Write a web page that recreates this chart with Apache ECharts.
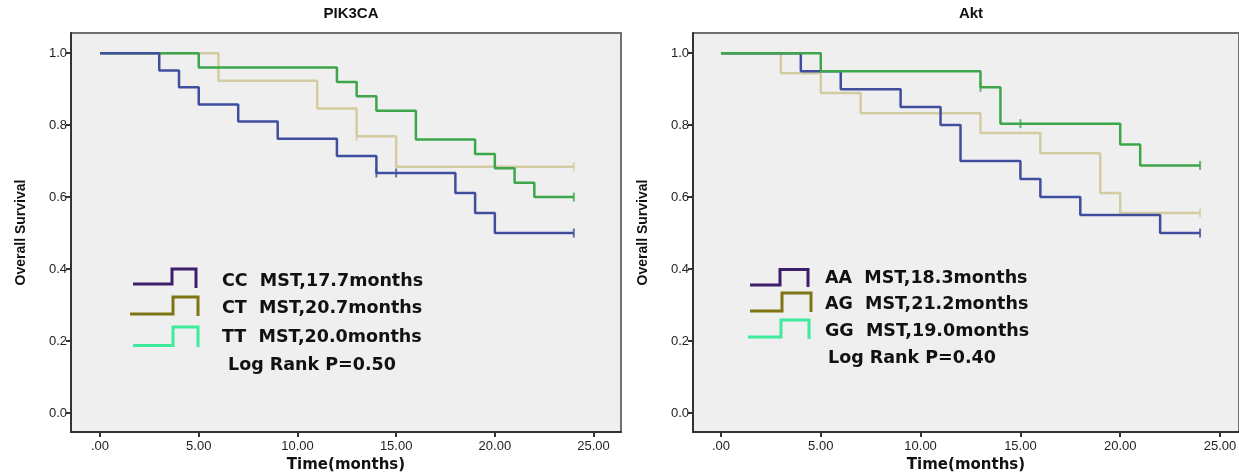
<!DOCTYPE html>
<html>
<head>
<meta charset="utf-8">
<script src="https://cdn.jsdelivr.net/npm/echarts@6.0.0/dist/echarts.min.js"></script>
<style>
  html, body { margin: 0; padding: 0; background: #fff; }
  #main { width: 1239px; height: 475px; }
</style>
</head>
<body>
<div id="main"></div>
<script>
var myChart = echarts.init(document.getElementById('main'));

// axis ticks
var xTicks = [0, 5, 10, 15, 20, 25];
var yTicks = [0, 0.2, 0.4, 0.6, 0.8, 1.0];

// PIK3CA panel (time in months, cumulative survival)
var ccTime = [0, 3, 4, 5, 7, 9, 12, 14, 18, 19, 20, 24];
var ccSurv = [1, 0.952, 0.905, 0.857, 0.810, 0.762, 0.714, 0.667, 0.611, 0.556, 0.500, 0.500];
var ccCensTime = [14, 15, 24];
var ccCensSurv = [0.667, 0.667, 0.500];

var ctTime = [0, 6, 11, 13, 15, 24];
var ctSurv = [1, 0.923, 0.846, 0.769, 0.684, 0.684];
var ctCensTime = [13, 24];
var ctCensSurv = [0.769, 0.684];

var ttTime = [0, 5, 12, 13, 14, 16, 19, 20, 21, 22, 24];
var ttSurv = [1, 0.96, 0.92, 0.88, 0.84, 0.76, 0.72, 0.68, 0.64, 0.60, 0.60];
var ttCensTime = [24];
var ttCensSurv = [0.60];

// Akt panel
var aaTime = [0, 4, 6, 9, 11, 12, 15, 16, 18, 22, 24];
var aaSurv = [1, 0.95, 0.90, 0.85, 0.80, 0.70, 0.65, 0.60, 0.55, 0.50, 0.50];
var aaCensTime = [24];
var aaCensSurv = [0.50];

var agTime = [0, 3, 5, 7, 13, 16, 19, 20, 24];
var agSurv = [1, 0.944, 0.889, 0.833, 0.778, 0.722, 0.611, 0.556, 0.556];
var agCensTime = [24];
var agCensSurv = [0.556];

var ggTime = [0, 5, 13, 14, 20, 21, 24];
var ggSurv = [1, 0.95, 0.905, 0.804, 0.746, 0.688, 0.688];
var ggCensTime = [13, 15, 24];
var ggCensSurv = [0.905, 0.804, 0.688];

var blue = '#3f4f9e', tan = '#d3cca2', green = '#3da64b';

function zip(a, b) {
    return a.map(function (v, i) { return [v, b[i]]; });
}

function curve(name, t, s, color, gi, z) {
    return {
        name: name, type: 'line', step: 'end',
        xAxisIndex: gi, yAxisIndex: gi,
        data: zip(t, s), showSymbol: false, z: z,
        lineStyle: { color: color, width: 2.5 },
        itemStyle: { color: color }
    };
}

function censor(t, s, color, gi, z) {
    return {
        type: 'scatter', xAxisIndex: gi, yAxisIndex: gi,
        data: zip(t, s), symbol: 'rect', symbolSize: [2, 9], z: z,
        itemStyle: { color: color }
    };
}

var labelFont = 'Liberation Sans';
var boldFont = 'DejaVu Sans';

function xAxisFor(gi, min, max) {
    return {
        type: 'value', gridIndex: gi, min: min, max: max,
        axisLine: { show: true, onZero: false, lineStyle: { color: '#333', width: 2 } },
        axisTick: { show: true, length: 5, customValues: xTicks, lineStyle: { color: '#333', width: 2 } },
        axisLabel: {
            customValues: xTicks, margin: 8, color: '#222', fontSize: 13, fontFamily: labelFont,
            formatter: function (v) { return v === 0 ? '.00' : v.toFixed(2); }
        },
        splitLine: { show: false },
        name: 'Time(months)', nameLocation: 'middle', nameGap: 26,
        nameTextStyle: { fontFamily: boldFont, fontWeight: 'bold', fontSize: 15, color: '#111' }
    };
}

function yAxisFor(gi) {
    return {
        type: 'value', gridIndex: gi, min: -0.053, max: 1.056,
        axisLine: { show: true, onZero: false, lineStyle: { color: '#333', width: 2 } },
        axisTick: { show: true, length: 5, customValues: yTicks, lineStyle: { color: '#333', width: 2 } },
        axisLabel: {
            customValues: yTicks, margin: 4, color: '#222', fontSize: 13, fontFamily: labelFont,
            formatter: function (v) { return v.toFixed(1); }
        },
        splitLine: { show: false },
        name: 'Overall Survival', nameLocation: 'middle', nameGap: 43, nameRotate: 90,
        nameTextStyle: { fontFamily: labelFont, fontWeight: 'bold', fontSize: 14, color: '#111' }
    };
}

function legendIcon(points, color) {
    return {
        type: 'polyline', shape: { points: points },
        style: { stroke: color, lineWidth: 3, fill: null }
    };
}

function legendText(x, y, text) {
    return {
        type: 'text', x: x, y: y,
        style: { text: text, font: 'bold 17.5px "DejaVu Sans"', fill: '#111', verticalAlign: 'middle' }
    };
}

var iconC1 = '#3b1f6b', iconC2 = '#7f7516', iconC3 = '#3cec9c';

option = {
    backgroundColor: '#fff',
    animation: false,
    title: [
        { text: 'PIK3CA', left: 346, top: 1, textAlign: 'center',
          textStyle: { fontFamily: labelFont, fontWeight: 'bold', fontSize: 15, color: '#111' } },
        { text: 'Akt', left: 966, top: 1, textAlign: 'center',
          textStyle: { fontFamily: labelFont, fontWeight: 'bold', fontSize: 15, color: '#111' } }
    ],
    grid: [
        { left: 71, right: 618, top: 33, bottom: 43, show: true, outerBoundsMode: 'none',
          backgroundColor: '#efefef', borderColor: '#707070', borderWidth: 2 },
        { left: 693, right: 0, top: 33, bottom: 43, show: true, outerBoundsMode: 'none',
          backgroundColor: '#efefef', borderColor: '#707070', borderWidth: 2 }
    ],
    xAxis: [xAxisFor(0, -1.47, 26.39), xAxisFor(1, -1.40, 25.95)],
    yAxis: [yAxisFor(0), yAxisFor(1)],
    series: [
        curve('CT', ctTime, ctSurv, tan, 0, 2),
        curve('TT', ttTime, ttSurv, green, 0, 3),
        curve('CC', ccTime, ccSurv, blue, 0, 4),
        censor(ctCensTime, ctCensSurv, tan, 0, 5),
        censor(ttCensTime, ttCensSurv, green, 0, 5),
        censor(ccCensTime, ccCensSurv, blue, 0, 5),
        curve('AG', agTime, agSurv, tan, 1, 2),
        curve('AA', aaTime, aaSurv, blue, 1, 3),
        curve('GG', ggTime, ggSurv, green, 1, 4),
        censor(agCensTime, agCensSurv, tan, 1, 5),
        censor(aaCensTime, aaCensSurv, blue, 1, 5),
        censor(ggCensTime, ggCensSurv, green, 1, 5)
    ],
    graphic: [
        legendIcon([[133, 284], [172, 284], [172, 269], [196, 269], [196, 288]], iconC1),
        legendIcon([[130, 314], [173, 314], [173, 297], [198, 297], [198, 316]], iconC2),
        legendIcon([[133, 345.5], [173, 345.5], [173, 327], [198, 327], [198, 347]], iconC3),
        legendText(222, 281, 'CC  MST,17.7months'),
        legendText(222, 308, 'CT  MST,20.7months'),
        legendText(222, 337, 'TT  MST,20.0months'),
        legendText(228, 365, 'Log Rank P=0.50'),
        legendIcon([[750, 285], [780, 285], [780, 269.5], [808, 269.5], [808, 287]], iconC1),
        legendIcon([[750, 311], [782, 311], [782, 293], [811, 293], [811, 312]], iconC2),
        legendIcon([[748, 337], [781, 337], [781, 320], [809, 320], [809, 339]], iconC3),
        legendText(825, 278, 'AA  MST,18.3months'),
        legendText(825, 304, 'AG  MST,21.2months'),
        legendText(825, 331, 'GG  MST,19.0months'),
        legendText(828, 358, 'Log Rank P=0.40')
    ]
};

myChart.setOption(option);
</script>
</body>
</html>
